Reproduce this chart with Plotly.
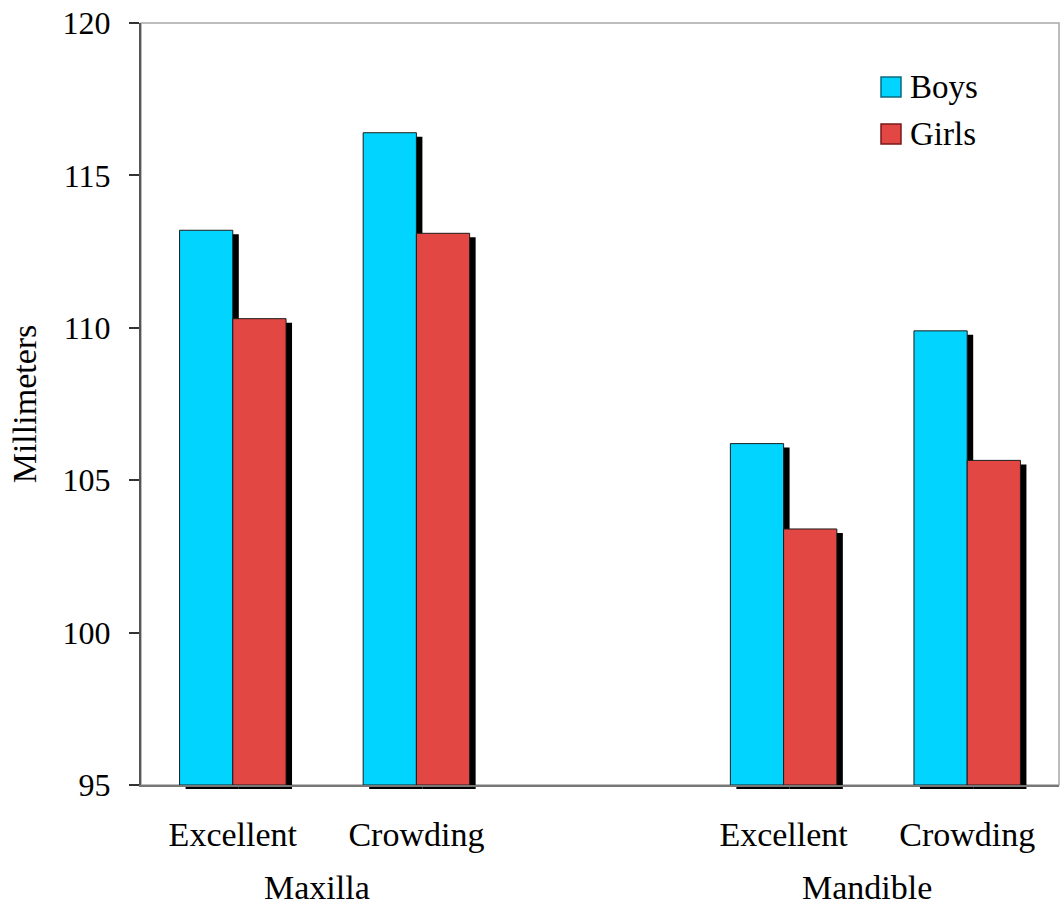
import plotly.graph_objects as go

# Arch perimeter (mm) by jaw, occlusion group and sex
jaws = ["Maxilla", "Mandible"]
groups = ["Excellent", "Crowding"]
boys = [113.2, 116.4, 106.2, 109.9]
girls = [110.3, 113.1, 103.4, 105.65]
series_names = ["Boys", "Girls"]
series_colors = ["#00D4FF", "#E24744"]
legend_edges = ["#0B6A80", "#7A1A18"]
y_ticks = [95, 100, 105, 110, 115, 120]

FONT = "Liberation Serif"
W, H = 1062, 916

# pixel geometry of the figure
L, R, T, B = 141, 0, 23, 127
PW, PH = W - L - R, H - T - B          # paper size in px
plot_w, plot_h = 918, 762              # visible plotting area
dx, dy = 6, 4                          # drop-shadow offset

# one slot per group, with an empty slot between the two jaws
xpos = []
labels = []
for j, jaw in enumerate(jaws):
    for g, grp in enumerate(groups):
        xpos.append(j * (len(groups) + 1) + g)
        labels.append(grp)
x_lo, x_hi = -0.5, max(xpos) + 0.5
px_per_x = plot_w / (x_hi - x_lo)


def paper_y(px):
    """Convert a pixel row of the page to paper y."""
    return 1 - (px - T) / PH


def paper_x(px):
    return (px - L) / PW


fig = go.Figure()

# shadows first (lower subplot layer), shifted right/down by a few pixels
for vals in (boys, girls):
    fig.add_trace(go.Bar(
        x=xpos, y=[v - 95 for v in vals], base=95,
        marker=dict(color="black", line=dict(width=0)),
        xaxis="x", yaxis="y", showlegend=False, hoverinfo="skip",
    ))

for name, vals, col in zip(series_names, (boys, girls), series_colors):
    fig.add_trace(go.Bar(
        x=xpos, y=[v - 95 for v in vals], base=95, name=name,
        marker=dict(color=col, line=dict(color="#1c1c1c", width=1)),
        xaxis="x2", yaxis="y2", showlegend=False,
    ))

shadow_w = PW - dx
fig.update_layout(
    width=W, height=H,
    margin=dict(l=L, r=R, t=T, b=B, pad=0),
    paper_bgcolor="white", plot_bgcolor="rgba(0,0,0,0)",
    barmode="group", bargap=0.42, bargroupgap=0,
    font=dict(family=FONT, size=32, color="black"),
    xaxis=dict(
        domain=[dx / PW, 1], range=[x_lo, x_lo + shadow_w / px_per_x],
        visible=False, fixedrange=True,
    ),
    yaxis=dict(
        domain=[0, 1 - dy / PH], range=[95, 120],
        visible=False, anchor="x", fixedrange=True,
    ),
    xaxis2=dict(
        domain=[0, plot_w / PW], range=[x_lo, x_hi], anchor="y2",
        tickmode="array", tickvals=xpos, ticktext=labels,
        showline=True, linecolor="#777777", linewidth=1.5,
        ticks="", showgrid=False, zeroline=False,
        tickfont=dict(family=FONT, size=34), ticklabelstandoff=18,
        layer="below traces",
    ),
    yaxis2=dict(
        domain=[dy / PH, 1], range=[95, 120], anchor="x2",
        tickmode="array", tickvals=y_ticks,
        showline=True, linecolor="#555555", linewidth=2,
        ticks="outside", ticklen=10, tickwidth=1.5, tickcolor="#333333",
        showgrid=False, zeroline=False,
        tickfont=dict(family=FONT, size=32), ticklabelstandoff=12,
        title=dict(text="Millimeters", font=dict(family=FONT, size=34), standoff=16),
    ),
)

# light frame on the top and right of the plotting area
fig.add_shape(type="rect", xref="x2 domain", yref="y2 domain",
              x0=0, x1=1, y0=0, y1=1, layer="below",
              line=dict(color="#a8a8a8", width=1.5))

# jaw labels under each pair of groups
for j, jaw in enumerate(jaws):
    centre = sum(xpos[j * len(groups):(j + 1) * len(groups)]) / len(groups)
    fig.add_annotation(x=centre, xref="x2", y=paper_y(887), yref="paper",
                       yanchor="middle", showarrow=False, xshift=-8,
                       text=jaw, font=dict(family=FONT, size=34))

# legend: coloured squares with labels, top right
for i, (name, col, edge) in enumerate(zip(series_names, series_colors, legend_edges)):
    cy = 87 + i * 47
    fig.add_shape(type="rect", xref="paper", yref="paper",
                  x0=paper_x(881), x1=paper_x(901),
                  y0=paper_y(cy + 10), y1=paper_y(cy - 10),
                  fillcolor=col, line=dict(color=edge, width=1.5))
    fig.add_annotation(x=paper_x(908), y=paper_y(cy), xref="paper", yref="paper",
                       xanchor="left", yanchor="middle", showarrow=False,
                       text=name, font=dict(family=FONT, size=33))

fig.write_html("out.html")
